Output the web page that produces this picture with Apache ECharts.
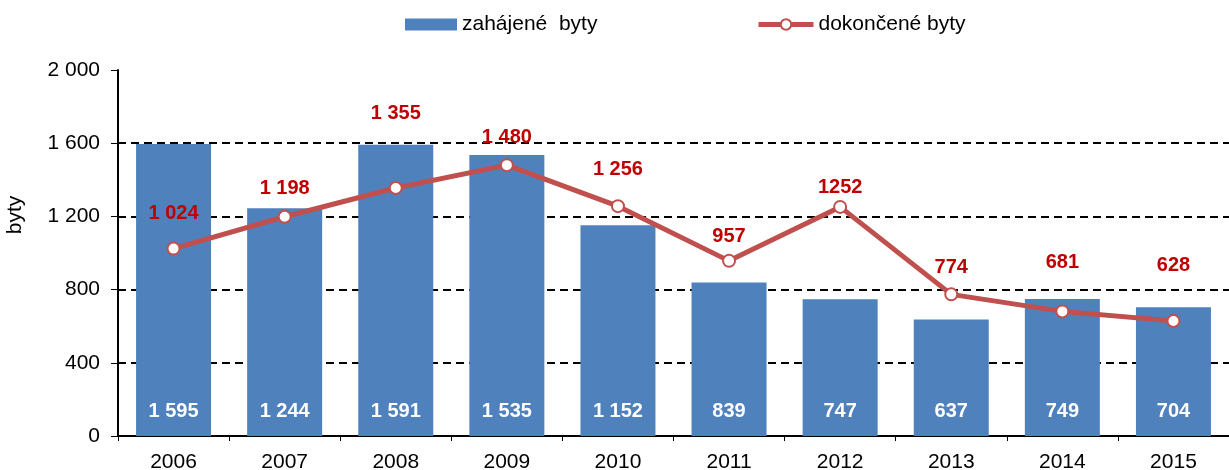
<!DOCTYPE html>
<html>
<head>
<meta charset="utf-8">
<script src="https://cdn.jsdelivr.net/npm/echarts@6/dist/echarts.min.js"></script>
<style>
	html, body { margin: 0; padding: 0; background: #fff; }
	#chart { width: 1229px; height: 470px; }
</style>
</head>
<body>
<div id="chart"></div>
<script>
	// roky
	const years = ['2006', '2007', '2008', '2009', '2010', '2011', '2012', '2013', '2014', '2015']
	// zahájené byty (sloupce)
	const started = [1595, 1244, 1591, 1535, 1152, 839, 747, 637, 749, 704]
	const startedLabels = ['1 595', '1 244', '1 591', '1 535', '1 152', '839', '747', '637', '749', '704']
	// dokončené byty (čára)
	const finished = [1024, 1198, 1355, 1480, 1256, 957, 1252, 774, 681, 628]
	const finishedLabels = ['1 024', '1 198', '1 355', '1 480', '1 256', '957', '1252', '774', '681', '628']
	// popisky osy y
	const yTickLabels = ['0', '400', '800', '1 200', '1 600', '2 000']

	// jak vysoko nad bodem je popisek (px)
	const labelLift = [18, 11, 58, 11, 20, 7, 2, 10, 32, 39]

	const font = 'Arial, "Liberation Sans", sans-serif'
	const chart = echarts.init(document.getElementById('chart'))

	const option = {
		animation: false,
		textStyle: { fontFamily: font },
		legend: [{
			left: 400,
			top: 9,
			itemWidth: 52,
			itemHeight: 12,
			textStyle: { fontSize: 21, color: '#000', fontFamily: font },
			data: [{ name: 'zahájené  byty', icon: 'rect' }]
		}, {
			left: 751,
			top: 9,
			itemWidth: 55,
			itemHeight: 13,
			lineStyle: { width: 5 },
			textStyle: { fontSize: 21, color: '#000', fontFamily: font },
			data: [{ name: 'dokončené byty' }]
		}],
		grid: {
			left: 118,
			right: 0,
			top: 70,
			bottom: 34,
			outerBoundsMode: 'none'
		},
		xAxis: {
			type: 'category',
			data: years,
			axisLine: { lineStyle: { color: '#000', width: 2 } },
			axisTick: { show: true, length: 5, lineStyle: { color: '#000' } },
			axisLabel: { fontSize: 21, color: '#000', margin: 16 }
		},
		yAxis: {
			type: 'value',
			min: 0,
			max: 2000,
			interval: 400,
			name: 'byty',
			nameLocation: 'middle',
			nameGap: 92,
			nameTextStyle: { fontSize: 21, color: '#000', padding: [0, 0, 0, 76] },
			axisLine: { show: true, lineStyle: { color: '#000', width: 2 } },
			axisTick: { show: true, length: 7, lineStyle: { color: '#000' } },
			axisLabel: {
				fontSize: 21,
				color: '#000',
				margin: 18,
				formatter: v => yTickLabels[Math.round(v / 400)]
			},
			splitLine: {
				show: true,
				lineStyle: {
					// nulu a 2000 nekreslit
					color: ['transparent', '#000', '#000', '#000', '#000', 'transparent'],
					type: [8, 5],
					width: 2
				}
			}
		},
		series: [{
			name: 'zahájené  byty',
			type: 'bar',
			barWidth: 75,
			itemStyle: { color: '#4F81BD' },
			label: {
				show: true,
				position: 'insideBottom',
				distance: 15,
				color: '#fff',
				fontWeight: 'bold',
				fontSize: 20,
				formatter: p => startedLabels[p.dataIndex]
			},
			data: started
		}, {
			name: 'dokončené byty',
			type: 'line',
			symbol: 'circle',
			symbolSize: 12,
			lineStyle: { color: '#C0504D', width: 5 },
			itemStyle: { color: '#fff', borderColor: '#C0504D', borderWidth: 2 },
			z: 5,
			data: finished.map((v, i) => ({
				value: v,
				label: {
					show: true,
					position: 'top',
					distance: labelLift[i],
					color: '#C00000',
					fontWeight: 'bold',
					fontSize: 20,
					formatter: finishedLabels[i]
				}
			}))
		}]
	}

	chart.setOption(option)
</script>
</body>
</html>
